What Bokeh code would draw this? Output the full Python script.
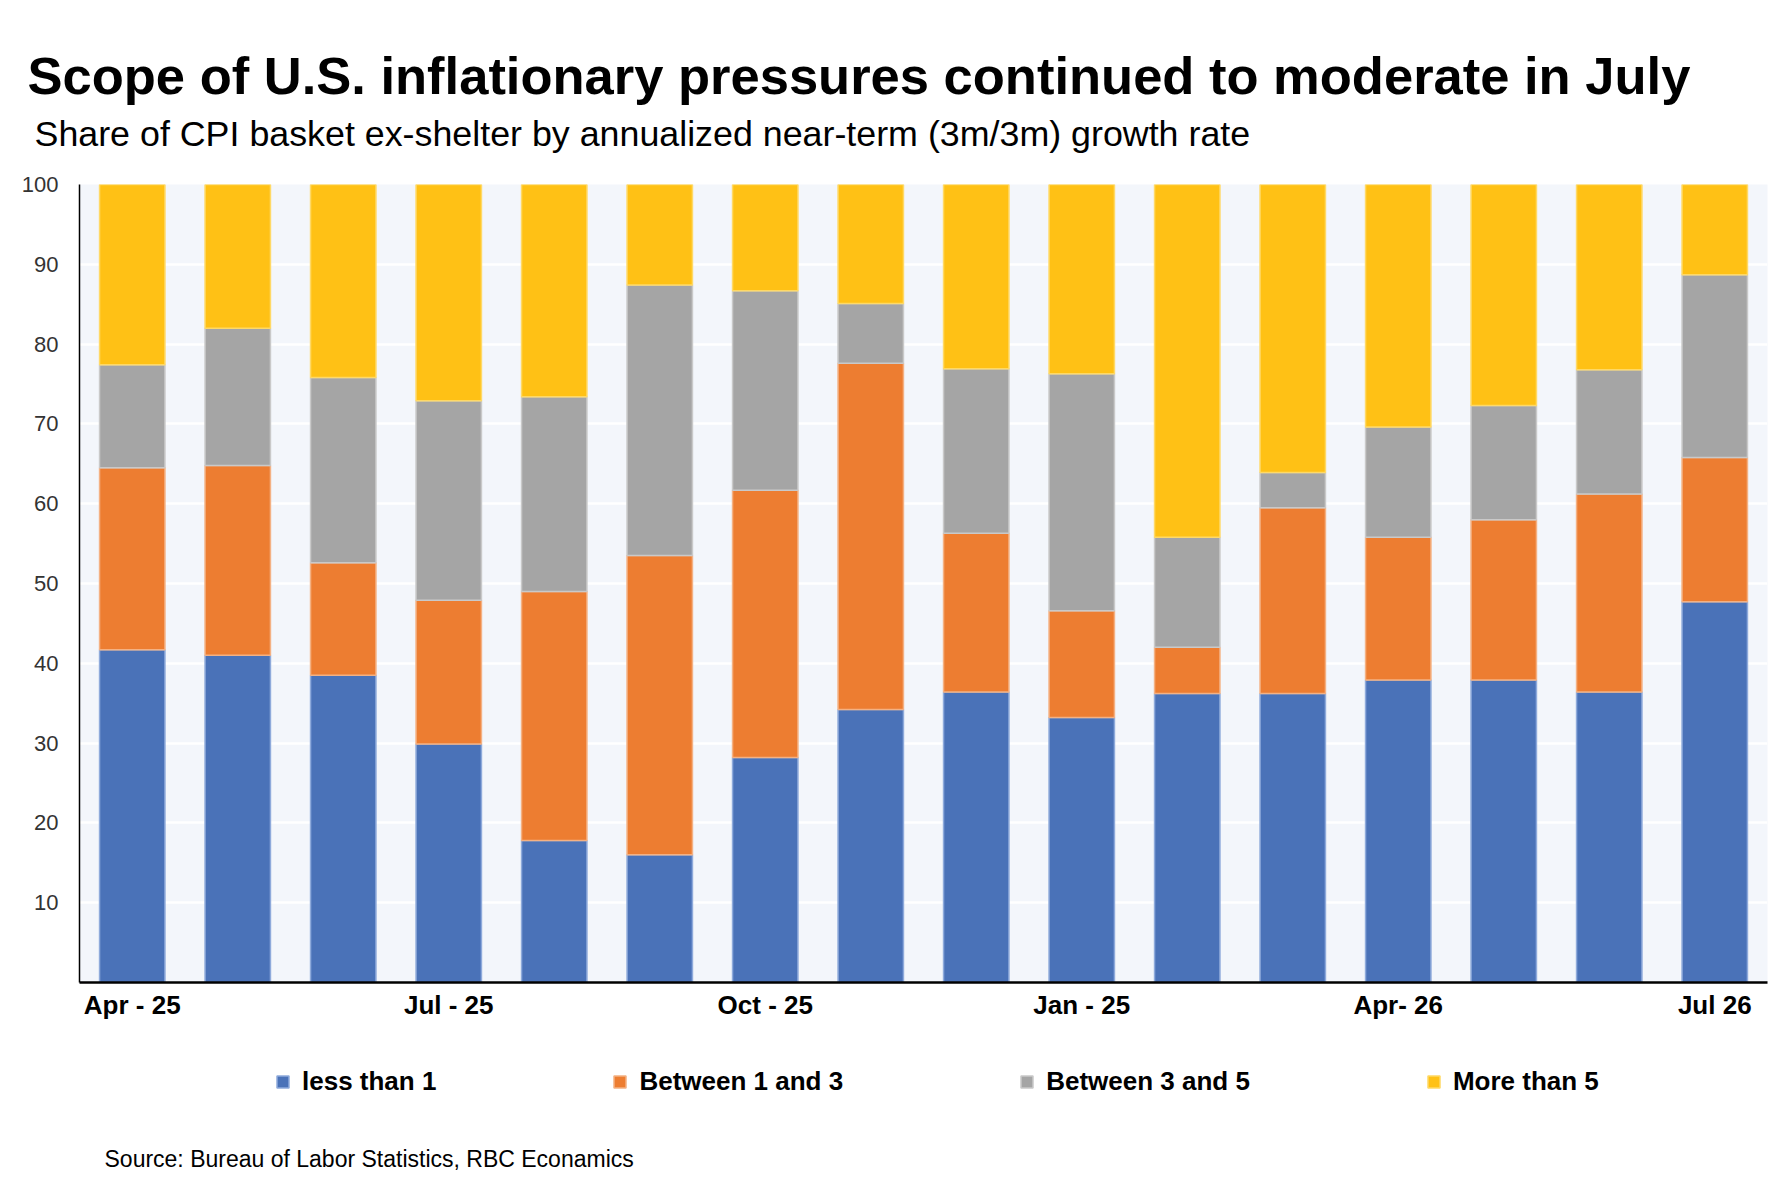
from bokeh.plotting import figure
from bokeh.layouts import column
from bokeh.models import ColumnDataSource, FixedTicker, Range1d, Legend, LegendItem, Title, Label
from bokeh.embed import file_html
from bokeh.resources import INLINE

# ---- data ----
months = ["Apr-25", "May-25", "Jun-25", "Jul-25", "Aug-25", "Sep-25", "Oct-25", "Nov-25",
          "Dec-25", "Jan-26", "Feb-26", "Mar-26", "Apr-26", "May-26", "Jun-26", "Jul-26"]
less_than_1 = [41.7, 41.0, 38.5, 29.9, 17.8, 16.0, 28.2, 34.2, 36.4, 33.2, 36.2, 36.2, 37.9, 37.9, 36.4, 47.7]
between_1_3 = [22.8, 23.8, 14.1, 18.0, 31.2, 37.5, 33.5, 43.4, 19.9, 13.4, 5.8, 23.3, 17.9, 20.1, 24.8, 18.1]
between_3_5 = [12.9, 17.2, 23.2, 25.0, 24.4, 33.9, 25.0, 7.5, 20.6, 29.7, 13.8, 4.4, 13.8, 14.3, 15.6, 22.9]
more_than_5 = [22.6, 18.0, 24.2, 27.1, 26.6, 12.6, 13.3, 14.9, 23.1, 23.7, 44.2, 36.1, 30.4, 27.7, 23.2, 11.3]

series_names = ["less than 1", "Between 1 and 3", "Between 3 and 5", "More than 5"]
tick_positions = [0, 3, 6, 9, 12, 15]
tick_labels = ["Apr - 25", "Jul - 25", "Oct - 25", "Jan - 25", "Apr- 26", "Jul 26"]
y_ticks = [10, 20, 30, 40, 50, 60, 70, 80, 90, 100]

title_text = "Scope of U.S. inflationary pressures continued to moderate in July"
subtitle_text = "Share of CPI basket ex-shelter by annualized near-term (3m/3m) growth rate"
source_text = "Source: Bureau of Labor Statistics, RBC Econamics"

# ---- styles ----
fills = ["#4A72B8", "#ED7D31", "#A5A5A5", "#FFC115"]
edges = ["#8EAADB", "#F4B183", "#C9C9C9", "#FFD966"]
FONT = "Liberation Sans"
W = 1772
H_MAIN = 1030
H_FOOT = 154
FRAME_L, FRAME_R = 79, 1767

source = ColumnDataSource(dict(
    x=list(range(len(months))), month=months,
    less=less_than_1, b13=between_1_3, b35=between_3_5, more=more_than_5,
))
stackers = ["less", "b13", "b35", "more"]

# ================= main chart =================
p = figure(width=W, height=H_MAIN, output_backend="svg", toolbar_location=None,
           x_range=Range1d(-0.5, len(months) - 0.5), y_range=Range1d(0, 100),
           min_border_left=FRAME_L, min_border_right=W - FRAME_R,
           min_border_top=184, min_border_bottom=48)
p.title_location = None
p.background_fill_color = "#F3F6FB"
p.border_fill_color = "white"
p.outline_line_color = None

renderers = p.vbar_stack(stackers, x="x", width=0.62, source=source,
                         fill_color=fills, line_color=edges, line_width=1.5)

p.xaxis.ticker = FixedTicker(ticks=tick_positions)
p.xaxis.major_label_overrides = {t: l for t, l in zip(tick_positions, tick_labels)}
p.xaxis.major_label_text_font = FONT
p.xaxis.major_label_text_font_size = "26px"
p.xaxis.major_label_text_font_style = "bold"
p.xaxis.major_label_text_color = "black"
p.xaxis.axis_line_color = "black"
p.xaxis.axis_line_width = 2.5
p.xaxis.major_tick_line_color = None
p.xaxis.minor_tick_line_color = None
p.xaxis.major_tick_out = 0
p.xaxis.major_tick_in = 0
p.xaxis.major_label_standoff = 7

p.yaxis.ticker = FixedTicker(ticks=y_ticks)
p.yaxis.major_label_text_font = FONT
p.yaxis.major_label_text_font_size = "22px"
p.yaxis.major_label_text_color = "#333333"
p.yaxis.axis_line_color = "black"
p.yaxis.axis_line_width = 1.5
p.yaxis.major_tick_line_color = None
p.yaxis.minor_tick_line_color = None
p.yaxis.major_tick_out = 0
p.yaxis.major_tick_in = 0
p.yaxis.major_label_standoff = 21

p.xgrid.grid_line_color = None
p.ygrid.ticker = FixedTicker(ticks=y_ticks)
p.ygrid.grid_line_color = "white"
p.ygrid.grid_line_width = 2.5

# titles above the frame (first added = closest to the frame)
p.add_layout(Title(text=" ", text_font_size="1px", standoff=28), "above")
p.add_layout(Title(text=subtitle_text, text_font=FONT, text_font_size="35.8px",
                   text_font_style="normal", text_color="black", align="left",
                   offset=-45, standoff=0, vertical_align="bottom"), "above")
p.add_layout(Title(text=title_text, text_font=FONT, text_font_size="52.5px",
                   text_font_style="bold", text_color="black", align="left",
                   offset=-52, standoff=14, vertical_align="bottom"), "above")

# ================= footer: legend + source =================
# footer frame is aligned with the main frame, so its x data units equal page pixels
f = figure(width=W, height=H_FOOT, output_backend="svg", toolbar_location=None,
           x_range=Range1d(FRAME_L, FRAME_R), y_range=Range1d(0, H_FOOT),
           x_axis_type=None, y_axis_type=None, min_border=0)
f.title_location = None
f.outline_line_color = None
f.background_fill_color = "white"
f.border_fill_color = "white"

# zero-size legend-only renderers (one swatch per series)
swatch_src = ColumnDataSource(dict(x=[FRAME_L], top=[0], bottom=[0]))
legend_renderers = [f.vbar(x="x", top="top", bottom="bottom", width=0, source=swatch_src,
                           fill_color=fc, line_color=lc, line_width=1.5)
                    for fc, lc in zip(fills, edges)]
legend = Legend(
    items=[LegendItem(label=n, renderers=[r]) for n, r in zip(series_names, legend_renderers)],
    orientation="horizontal", location=(275 - FRAME_L, 87), spacing=176, label_standoff=12,
    glyph_width=15, glyph_height=15, padding=0, margin=0,
    border_line_color=None, background_fill_alpha=0,
    label_text_font=FONT, label_text_font_size="26px", label_text_font_style="bold",
    label_text_color="black",
)
f.add_layout(legend, "center")

f.add_layout(Label(x=104, y=26, text=source_text, text_font=FONT,
                   text_font_size="23px", text_color="black", text_baseline="alphabetic"))

layout = column(p, f, spacing=0)
open("out.html", "w").write(file_html(layout, INLINE))
